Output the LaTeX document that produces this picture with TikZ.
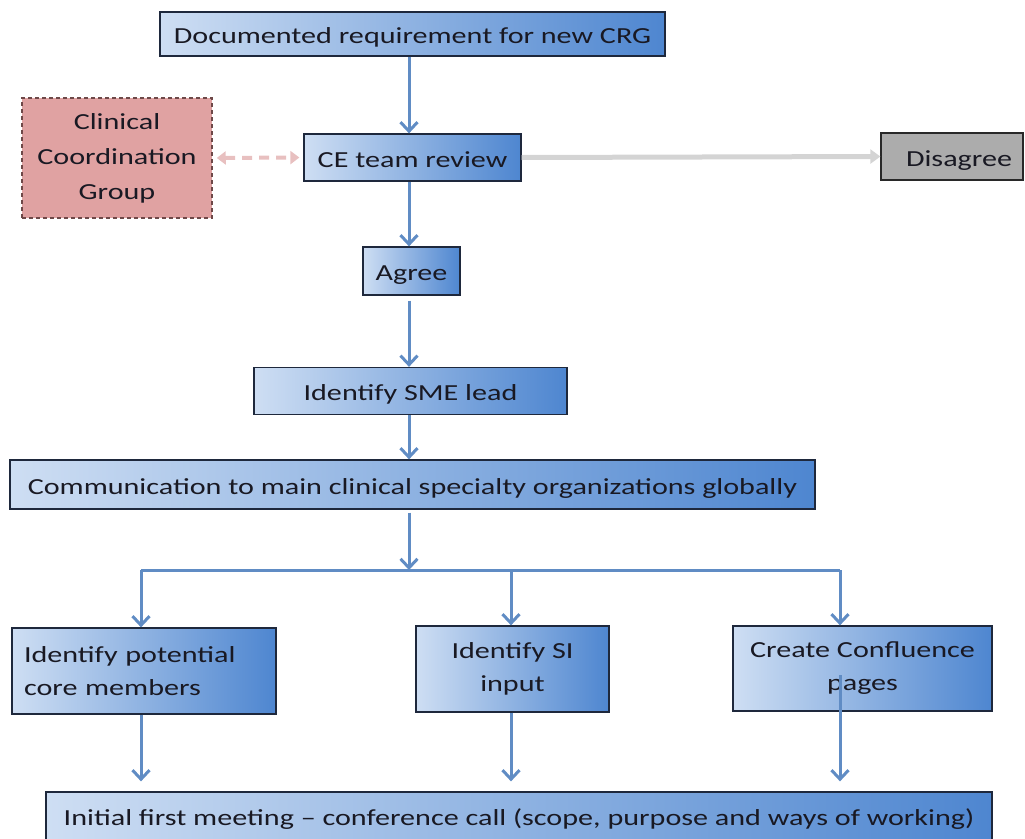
\documentclass[tikz,border=0pt]{standalone}
\usepackage{fontspec}
\setmainfont{Carlito}[FakeStretch=1.31]
\usetikzlibrary{arrows.meta,calc}
\definecolor{blueL}{RGB}{206,222,243}
\definecolor{blueR}{RGB}{78,134,208}
\definecolor{arrowblue}{RGB}{96,140,196}
\definecolor{ccgfill}{RGB}{224,162,162}
\definecolor{ccgdraw}{RGB}{110,72,72}
\definecolor{pinkarrow}{RGB}{232,192,192}
\definecolor{grayarrow}{RGB}{212,212,212}
\definecolor{disfill}{RGB}{172,172,172}
\definecolor{txt}{RGB}{25,25,35}
\tikzset{
  bluebox/.style={rectangle, draw={rgb,255:red,30;green,40;blue,60}, line width=1.3pt,
    left color=blueL, right color=blueR, inner sep=0pt, text=txt,
    font=\fontsize{23}{33}\selectfont, align=center},
  oneline/.style={text height=21pt, text depth=2pt},
  arr/.style={draw=arrowblue, line width=3pt, -{Straight Barb[length=9pt,width=17pt]}},
}
\begin{document}
\begin{tikzpicture}[x=1pt,y=-1pt]
\useasboundingbox (0,0) rectangle (1025,838);
\node[bluebox, oneline, minimum width=505pt, minimum height=44pt] (doc) at (412.5,34) {Documented requirement for new CRG};
\node[rectangle, draw=ccgdraw, dash pattern=on 4pt off 3pt, line width=1.5pt, fill=ccgfill,
  minimum width=190pt, minimum height=120pt, inner sep=0pt, text=txt, align=center,
  font=\fontsize{23}{35}\selectfont] (ccg) at (117,158) {Clinical\\Coordination\\Group};
\node[bluebox, oneline, minimum width=217pt, minimum height=47pt] (ce) at (412.5,157.5) {CE team review};
\node[rectangle, draw={rgb,255:red,40;green,40;blue,40}, line width=1.3pt, fill=disfill,
  minimum width=142pt, minimum height=47pt, inner sep=0pt, text=txt, oneline,
  font=\fontsize{23}{33}\selectfont] (dis) at (952,156.5) {\hspace*{14pt}Disagree};
\node[bluebox, oneline, minimum width=97pt, minimum height=48pt] (agree) at (411.5,271) {Agree};
\node[bluebox, oneline, minimum width=313pt, minimum height=47pt] (sme) at (410.5,391) {Identify SME lead};
\node[bluebox, oneline, minimum width=805pt, minimum height=49pt] (comm) at (412.5,484.5) {Communication to main clinical specialty organizations globally};
\node[bluebox, minimum width=264pt, minimum height=86pt, align=left, text width=240pt] (pot) at (144,671) {Identify potential\\core members};
\node[bluebox, minimum width=193pt, minimum height=86pt] (si) at (512.5,669) {Identify SI\\input};
\node[bluebox, minimum width=259pt, minimum height=85pt] (conf) at (862.5,668.5) {Create Confluence\\pages};
\node[bluebox, oneline, minimum width=946pt, minimum height=48pt] (init) at (519,816) {Initial first meeting -- conference call (scope, purpose and ways of working)};

\coordinate (j) at (409,570);
\coordinate (jl) at (141,570);
\coordinate (jm) at (511,570);
\coordinate (jr) at (840,570);
\coordinate (cs) at (840,675);

\draw[arr] (doc.south -| j) -- (ce.north -| j);
\draw[arr] (ce.south -| j) -- (agree.north -| j);
\draw[arr, shorten <=5pt] (agree.south -| j) -- (sme.north -| j);
\draw[arr] (sme.south -| j) -- (comm.north -| j);
\draw[arr, shorten <=3pt] (comm.south -| j) -- (j);
\draw[draw=arrowblue, line width=3pt] (jl) -- (jr);
\draw[arr] (jl) -- (jl |- pot.north);
\draw[arr] (jm) -- (jm |- si.north);
\draw[arr] (jr) -- (jr |- conf.north);
\draw[arr, shorten >=10pt] (jl |- pot.south) -- (jl |- init.north);
\draw[arr, shorten >=10pt] (jm |- si.south) -- (jm |- init.north);
\draw[arr, shorten >=10pt] (cs) -- (cs |- init.north);

\draw[draw=pinkarrow, line width=4pt, dash pattern=on 10pt off 7pt,
  {Triangle[length=9pt,width=13pt]}-{Triangle[length=9pt,width=13pt]}, shorten <=4pt, shorten >=4pt]
  (ccg.east) -- (ce.west);
\draw[draw=grayarrow, line width=5pt, -{Triangle[length=10pt,width=14pt]}] (ce.east) -- (dis.west);
\end{tikzpicture}
\end{document}
